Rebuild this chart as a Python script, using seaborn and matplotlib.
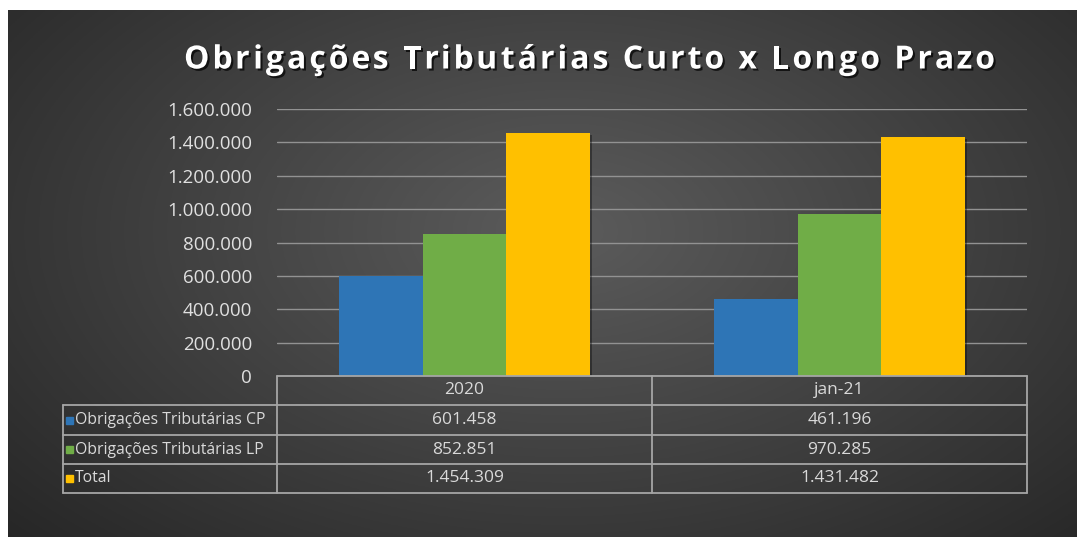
import numpy as np
import pandas as pd
import matplotlib
matplotlib.use("Agg")
import matplotlib.pyplot as plt
import matplotlib.patheffects as pe
import seaborn as sns

# data
periods = ["2020", "jan-21"]
series = ["Obrigações Tributárias CP", "Obrigações Tributárias LP", "Total"]
cp_values = [601458, 461196]
lp_values = [852851, 970285]
total_values = [1454309, 1431482]
y_ticks = [0, 200000, 400000, 600000, 800000, 1000000, 1200000, 1400000, 1600000]
title = "Obrigações Tributárias Curto x Longo Prazo"

colors = ["#2E75B6", "#70AD47", "#FFC000"]
W, H = 1077, 537


def fmt(v):
    return f"{v:,}".replace(",", ".")


df = pd.DataFrame({
    "periodo": periods * 3,
    "serie": [series[0]] * 2 + [series[1]] * 2 + [series[2]] * 2,
    "valor": cp_values + lp_values + total_values,
})

sns.set_theme(style="dark")
plt.rcParams["font.family"] = ["Open Sans", "DejaVu Sans"]

fig = plt.figure(figsize=(W / 100, H / 100), dpi=100)
fig.patch.set_facecolor("white")

# dark radial background
bg = fig.add_axes([8 / W, 0, 1 - 8 / W, 1 - 10 / H])
yy, xx = np.mgrid[0:1:300j, 0:1:600j]
d = np.sqrt(((xx - 0.52) / 0.75) ** 2 + ((yy - 0.42) / 0.9) ** 2)
shade = np.clip(0.36 - 0.22 * d, 0.13, 0.36)
bg.imshow(np.dstack([shade] * 3), aspect="auto", extent=[0, 1, 0, 1], origin="upper")
bg.set_axis_off()

# bar axes
ax_l, ax_r, ax_b, ax_t = 277, 1027, 376, 109
ax = fig.add_axes([ax_l / W, 1 - ax_b / H, (ax_r - ax_l) / W, (ax_b - ax_t) / H])
ax.set_facecolor("none")
sns.barplot(data=df, x="periodo", y="valor", hue="serie", palette=colors,
            width=0.667, gap=0, saturation=1, ax=ax, legend=False,
            edgecolor="none", linewidth=0)
for p in ax.patches:
    p.set_path_effects([pe.SimplePatchShadow(offset=(2, -1), shadow_rgbFace="black", alpha=0.35), pe.Normal()])
ax.set_ylim(0, 1600000)
ax.set_xlim(-0.5, 1.5)
ax.set_yticks(y_ticks)
ax.set_yticklabels([fmt(v) for v in y_ticks], color="#e0e0e0", fontsize=13.5)
ax.tick_params(axis="y", length=0, pad=18)
ax.set_xticks([])
ax.set_xlabel("")
ax.set_ylabel("")
ax.grid(axis="y", color="#929292", linewidth=1)
ax.set_axisbelow(True)
for s in ax.spines.values():
    s.set_visible(False)

# overlay axes in pixel coordinates for the title and the data table
tab = fig.add_axes([0, 0, 1, 1])
tab.set_xlim(0, W)
tab.set_ylim(H, 0)
tab.set_axis_off()

# title with Excel-like letter spacing
title_kw = dict(fontsize=23, fontweight="bold", color="white", va="center")
shadow = [pe.withSimplePatchShadow(offset=(1.5, -1.5), shadow_rgbFace="black", alpha=0.7)]
renderer = fig.canvas.get_renderer()


def text_w(s):
    t = tab.text(0, 0, s, **title_kw)
    w = t.get_window_extent(renderer).width
    t.remove()
    return w


ref_w = text_w("x")
offsets = [text_w(title[:i] + "x") - ref_w if i else 0 for i in range(len(title))]
natural = text_w(title)
x0, x1 = 184, 995
spacing = ((x1 - x0) - natural) / (len(title) - 1)
for i, ch in enumerate(title):
    if ch != " ":
        tab.text(x0 + offsets[i] + spacing * i, 60, ch, ha="left", path_effects=shadow, **title_kw)

line_kw = dict(color="#a6a6a6", linewidth=1.3)
row_y = [376, 405, 435, 464, 493]
col_x = [63, 277, 652, 1027]
tab.plot([col_x[1], col_x[3]], [row_y[0], row_y[0]], **line_kw)
for y in row_y[1:]:
    tab.plot([col_x[0], col_x[3]], [y, y], **line_kw)
for x in col_x[1:]:
    tab.plot([x, x], [row_y[0], row_y[-1]], **line_kw)
tab.plot([col_x[0], col_x[0]], [row_y[1], row_y[-1]], **line_kw)

txt_kw = dict(color="#d9d9d9", va="center")
for j, per in enumerate(periods):
    tab.text((col_x[j + 1] + col_x[j + 2]) / 2, (row_y[0] + row_y[1]) / 2, per,
             ha="center", fontsize=12.5, **txt_kw)
for i, (name, vals) in enumerate(zip(series, [cp_values, lp_values, total_values])):
    yc = (row_y[i + 1] + row_y[i + 2]) / 2
    tab.add_patch(plt.Rectangle((66, yc - 3.5), 7, 7, color=colors[i]))
    tab.text(75, yc, name, ha="left", fontsize=11.3, **txt_kw)
    for j, v in enumerate(vals):
        tab.text((col_x[j + 1] + col_x[j + 2]) / 2, yc, fmt(v), ha="center", fontsize=12.5, **txt_kw)

fig.savefig("out.png", dpi=100, facecolor=fig.get_facecolor())
